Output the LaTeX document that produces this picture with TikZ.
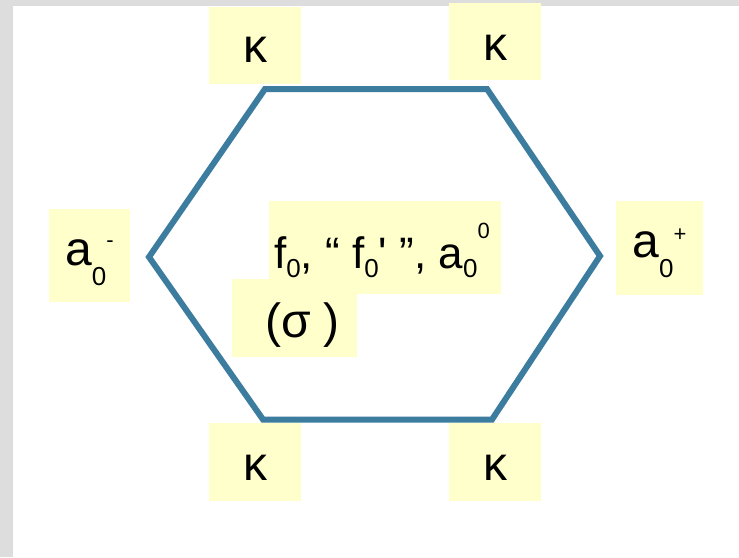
\documentclass[tikz,border=0pt]{standalone}
\usepackage{fontspec}
\setmainfont{Liberation Sans}
\usepackage{tikz}
\definecolor{paleyellow}{RGB}{255,255,204}
\definecolor{hexblue}{RGB}{60,124,158}
\definecolor{edgegrey}{RGB}{221,221,221}
\newcommand{\bigtxt}{\fontsize{48}{48}\selectfont}
\newcommand{\midtxt}{\fontsize{44}{44}\selectfont}
\newcommand{\lowidx}[2][20pt]{\raisebox{-#1}{\fontsize{26}{26}\selectfont #2}}
\newcommand{\highidx}[2][18pt]{\raisebox{#1}{\fontsize{22}{22}\selectfont #2}}
\tikzset{
  notebox/.style={fill=paleyellow, inner sep=0pt, font=\bigtxt, align=center},
  kbox/.style={notebox, minimum width=92pt, minimum height=77pt, text depth=0pt},
  hexline/.style={draw=hexblue, line width=6pt, line join=miter}
}
\begin{document}
\begin{tikzpicture}[x=1pt, y=-1pt]
  \useasboundingbox (0,0) rectangle (739,557);
  \fill[white] (0,0) rectangle (739,557);
  \fill[edgegrey] (0,0) rectangle (12.5,557);
  \fill[edgegrey] (0,0) rectangle (739,6);
  \coordinate (tl) at (265,89);
  \coordinate (tr) at (487,89);
  \coordinate (rt) at (600,256);
  \coordinate (br) at (492,419.5);
  \coordinate (bl) at (263,419.5);
  \coordinate (lt) at (149,257);
  \draw[hexline] (tl) -- (tr) -- (rt) -- (br) -- (bl) -- (lt) -- cycle;
  \node[kbox, text height=33pt] (k1) at (255,45.5) {κ};
  \node[kbox, text height=37pt] (k2) at (495,41.5) {κ};
  \node[kbox, minimum height=78pt, text height=36pt] (k3) at (255,462) {κ};
  \node[kbox, minimum height=78pt, text height=36pt] (k4) at (495,462) {κ};
  \node[notebox, minimum width=81pt, minimum height=93pt, text height=40pt, text depth=21pt] (aminus) at (89.5,255.5) {a\lowidx{0}\highidx{-}};
  \node[notebox, minimum width=87pt, minimum height=94pt, text height=40pt, text depth=22pt] (aplus) at (659.5,248) {a\lowidx{0}\highidx[16pt]{+}};
  \node[notebox, font=\midtxt, minimum width=232pt, minimum height=93pt, text height=45pt, text depth=4pt] (fzero) at (385,247.5) {\hspace*{-6pt}f\lowidx[9pt]{0}, “ f\lowidx[9pt]{0}\textquotesingle\ ”, a\lowidx[9pt]{0}\highidx[30pt]{0}};
  \node[notebox, minimum width=125pt, minimum height=78pt, text height=40pt, text depth=2pt] (sigma) at (294.5,318) {\hspace*{16pt}(σ )};
\end{tikzpicture}
\end{document}
